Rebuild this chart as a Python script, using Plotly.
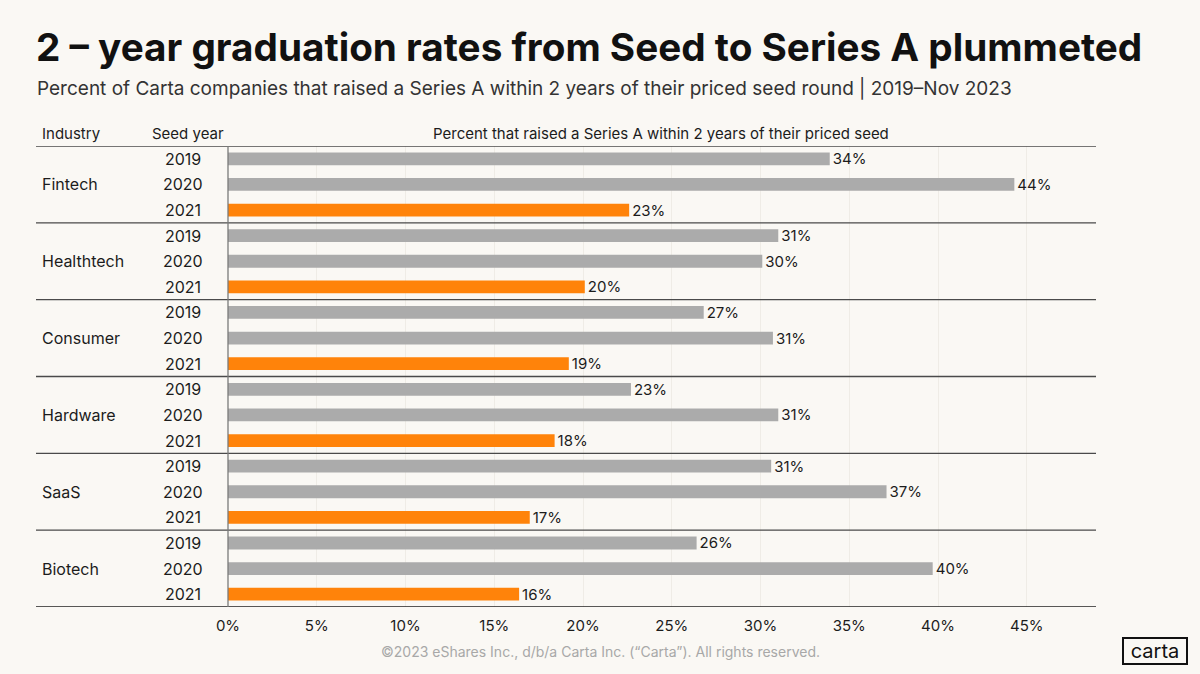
import plotly.graph_objects as go

# Data
industries = ["Fintech", "Healthtech", "Consumer", "Hardware", "SaaS", "Biotech"]
seed_years = ["2019", "2020", "2021"]
rate_2019 = [33.9, 31.0, 26.8, 22.7, 30.6, 26.4]
rate_2020 = [44.3, 30.1, 30.7, 31.0, 37.1, 39.7]
rate_2021 = [22.6, 20.1, 19.2, 18.4, 17.0, 16.4]
x_ticks = [0, 5, 10, 15, 20, 25, 30, 35, 40, 45]

W, H = 1200, 674
PL, PR, PT, PB = 228, 1096, 146, 607   # plot area in pixels
FONT = "Inter"
BG = "#faf8f4"
GREY = "#ababab"
ORANGE = "#ff830a"
INK = "#1c1c1c"


def px_x(x):
    # pixel x -> paper x
    return (x - PL) / (PR - PL)


def px_y(y):
    # pixel y -> paper y
    return (PB - y) / (PB - PT)


# build rows: one per industry / seed year
rows_y, rows_val, rows_col, rows_text = [], [], [], []
by_year = [rate_2019, rate_2020, rate_2021]
for i, ind in enumerate(industries):
    for j, yr in enumerate(seed_years):
        v = by_year[j][i]
        rows_y.append(i * 3 + j)
        rows_val.append(v)
        rows_col.append(ORANGE if yr == "2021" else GREY)
        rows_text.append(f"{round(v)}%")

fig = go.Figure()
fig.add_trace(go.Bar(
    x=rows_val, y=rows_y, orientation="h",
    marker=dict(color=rows_col, line=dict(width=0)),
    width=0.5,
    text=rows_text, textposition="outside", constraintext="none",
    textfont=dict(family=FONT, size=15, color=INK),
    cliponaxis=False, hoverinfo="skip",
))

annotations = []
# header row
annotations.append(dict(text="Industry", x=px_x(40), y=px_y(133), xanchor="left"))
annotations.append(dict(text="Seed year", x=px_x(150), y=px_y(133), xanchor="left"))
annotations.append(dict(text="Percent that raised a Series A within 2 years of their priced seed",
                        x=px_x(661), y=px_y(133), xanchor="center"))
for a in annotations:
    a.update(xref="paper", yref="paper", yanchor="middle", showarrow=False,
             font=dict(family=FONT, size=15, color=INK))

for i, ind in enumerate(industries):
    annotations.append(dict(text=ind, xref="paper", yref="y", x=px_x(40), y=i * 3 + 1,
                            xanchor="left", yanchor="middle", showarrow=False,
                            font=dict(family=FONT, size=16, color=INK)))
    for j, yr in enumerate(seed_years):
        annotations.append(dict(text=yr, xref="paper", yref="y", x=px_x(183), y=i * 3 + j,
                                xanchor="center", yanchor="middle", showarrow=False,
                                font=dict(family=FONT, size=16, color=INK)))

# title / subtitle / footer
annotations.append(dict(text="<b>2 – year graduation rates from Seed to Series A plummeted</b>",
                        xref="paper", yref="paper", x=px_x(34), y=px_y(47),
                        xanchor="left", yanchor="middle", showarrow=False,
                        font=dict(family=FONT, size=38.7, color="#111111")))
annotations.append(dict(text="Percent of Carta companies that raised a Series A within 2 years of their priced seed round | 2019–Nov 2023",
                        xref="paper", yref="paper", x=px_x(35), y=px_y(89),
                        xanchor="left", yanchor="middle", showarrow=False,
                        font=dict(family=FONT, size=19, color="#333333")))
annotations.append(dict(text="©2023 eShares Inc., d/b/a Carta Inc. (“Carta”). All rights reserved.",
                        xref="paper", yref="paper", x=px_x(600), y=px_y(651),
                        xanchor="center", yanchor="middle", showarrow=False,
                        font=dict(family=FONT, size=14, color="#a8a8a8")))
annotations.append(dict(text="carta", xref="paper", yref="paper", x=px_x(1155), y=px_y(651),
                        xanchor="center", yanchor="middle", showarrow=False,
                        font=dict(family=FONT, size=20, color="#111111"),
                        bordercolor="#111111", borderwidth=2, borderpad=1,
                        bgcolor=BG, width=60, height=22))

shapes = []
# header line and group separators
for k in range(len(industries) + 1):
    shapes.append(dict(type="line", xref="paper", yref="y", x0=px_x(36), x1=1,
                       y0=k * 3 - 0.5, y1=k * 3 - 0.5,
                       line=dict(color="#222222" if k == len(industries) else "#4a4a4a", width=1.4)))
# vertical divider
shapes.append(dict(type="line", xref="paper", yref="y", x0=0, x1=0,
                   y0=-0.5, y1=len(industries) * 3 - 0.5,
                   line=dict(color="#7a7a7a", width=1.3)))

fig.update_layout(
    width=W, height=H,
    margin=dict(l=PL, r=W - PR, t=PT, b=H - PB),
    paper_bgcolor=BG, plot_bgcolor=BG,
    showlegend=False,
    annotations=annotations,
    shapes=shapes,
    xaxis=dict(range=[0, 48.9], tickvals=x_ticks, ticktext=[f"{v}%" for v in x_ticks],
               tickfont=dict(family=FONT, size=15, color=INK), ticklabelstandoff=8,
               showgrid=True, gridcolor="#efece6", gridwidth=1,
               zeroline=False, showline=False, ticks="", fixedrange=True),
    yaxis=dict(range=[len(industries) * 3 - 0.5, -0.5], showticklabels=False,
               showgrid=False, zeroline=False, showline=False, ticks="", fixedrange=True),
    bargap=0.5,
)

fig.write_html("out.html", config={"displayModeBar": False},
               post_script="document.body.style.margin='0';document.body.style.background='%s';" % BG)
